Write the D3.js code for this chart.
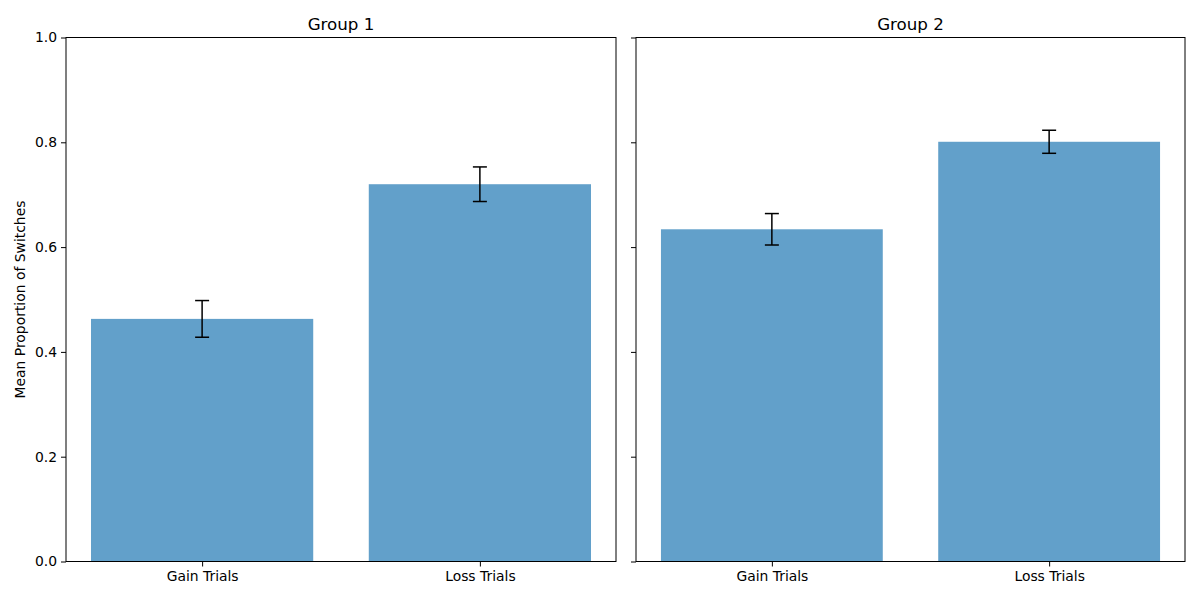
<!DOCTYPE html>
<html>
<head>
<meta charset="utf-8">
<script src="https://cdn.jsdelivr.net/npm/d3@7"></script>
<style>
  body { margin: 0; background: #fff; }
  text { font-family: "DejaVu Sans", sans-serif; fill: #000; }
</style>
</head>
<body>
<div id="the_chart"></div>
<script>
var groups = ["Group 1", "Group 2"];
var conditions = ["Gain Trials", "Loss Trials"];
var group1_means = [0.463, 0.720];
var group1_errs = [0.035, 0.033];
var group2_means = [0.634, 0.801];
var group2_errs = [0.030, 0.022];
var y_ticks = [0.0, 0.2, 0.4, 0.6, 0.8, 1.0];

var w = 1200;
var h = 600;
var top_y = 37.5;
var bottom_y = 561.5;
var panels = [
  { left: 66, right: 616, means: group1_means, errs: group1_errs, labels: true },
  { left: 636, right: 1185, means: group2_means, errs: group2_errs, labels: false }
];

var svg = d3.select("#the_chart")
            .append("svg")
            .attr("width", w)
            .attr("height", h);

var yscale = d3.scaleLinear()
               .domain([0, 1])
               .range([bottom_y, top_y]);

panels.forEach(function (p, gi) {
  var xscale = d3.scaleLinear()
                 .domain([-0.49, 1.49])
                 .range([p.left, p.right]);
  var g = svg.append("g");
  var bar_w = xscale(0.8) - xscale(0);

  // bars
  g.selectAll("rect.bar")
   .data(p.means)
   .enter().append("rect")
   .attr("class", "bar")
   .attr("x", function (d, i) { return xscale(i) - bar_w / 2; })
   .attr("y", function (d) { return yscale(d); })
   .attr("width", bar_w)
   .attr("height", function (d) { return bottom_y - yscale(d); })
   .attr("fill", "#1f77b4")
   .attr("fill-opacity", 0.7);

  // error bars
  var eb = g.selectAll("g.err")
            .data(p.means)
            .enter().append("g")
            .attr("class", "err")
            .attr("stroke", "#000")
            .attr("stroke-width", 1.5);
  eb.append("line")
    .attr("x1", function (d, i) { return xscale(i); })
    .attr("x2", function (d, i) { return xscale(i); })
    .attr("y1", function (d, i) { return yscale(d + p.errs[i]); })
    .attr("y2", function (d, i) { return yscale(d - p.errs[i]); });
  [1, -1].forEach(function (s) {
    eb.append("line")
      .attr("x1", function (d, i) { return xscale(i) - 7; })
      .attr("x2", function (d, i) { return xscale(i) + 7; })
      .attr("y1", function (d, i) { return yscale(d + s * p.errs[i]); })
      .attr("y2", function (d, i) { return yscale(d + s * p.errs[i]); });
  });

  // axes
  var yaxis = d3.axisLeft(yscale)
                .tickValues(y_ticks)
                .tickSize(5)
                .tickPadding(4)
                .tickFormat(p.labels ? d3.format(".1f") : "");
  var ya = g.append("g")
            .attr("transform", "translate(" + p.left + ",0)")
            .call(yaxis);
  ya.select(".domain").remove();

  var xaxis = d3.axisBottom(xscale)
                .tickValues([0, 1])
                .tickSize(5)
                .tickPadding(5)
                .tickFormat(function (d) { return conditions[d]; });
  var xa = g.append("g")
            .attr("transform", "translate(0," + bottom_y + ")")
            .call(xaxis);
  xa.select(".domain").remove();

  [ya, xa].forEach(function (a) {
    a.selectAll("text").attr("font-size", "13.9px").attr("font-family", "DejaVu Sans");
    a.selectAll("line").attr("stroke", "#000").attr("stroke-width", 1);
  });

  // frame
  g.append("rect")
   .attr("x", p.left)
   .attr("y", top_y)
   .attr("width", p.right - p.left)
   .attr("height", bottom_y - top_y)
   .attr("fill", "none")
   .attr("stroke", "#000")
   .attr("stroke-width", 1);

  // title
  g.append("text")
   .attr("x", (p.left + p.right) / 2)
   .attr("y", top_y - 8)
   .attr("text-anchor", "middle")
   .attr("font-size", "16.7px")
   .text(groups[gi]);
});

// y label
svg.append("text")
   .attr("transform", "translate(25," + ((top_y + bottom_y) / 2) + ") rotate(-90)")
   .attr("text-anchor", "middle")
   .attr("font-size", "13.9px")
   .text("Mean Proportion of Switches");
</script>
</body>
</html>
